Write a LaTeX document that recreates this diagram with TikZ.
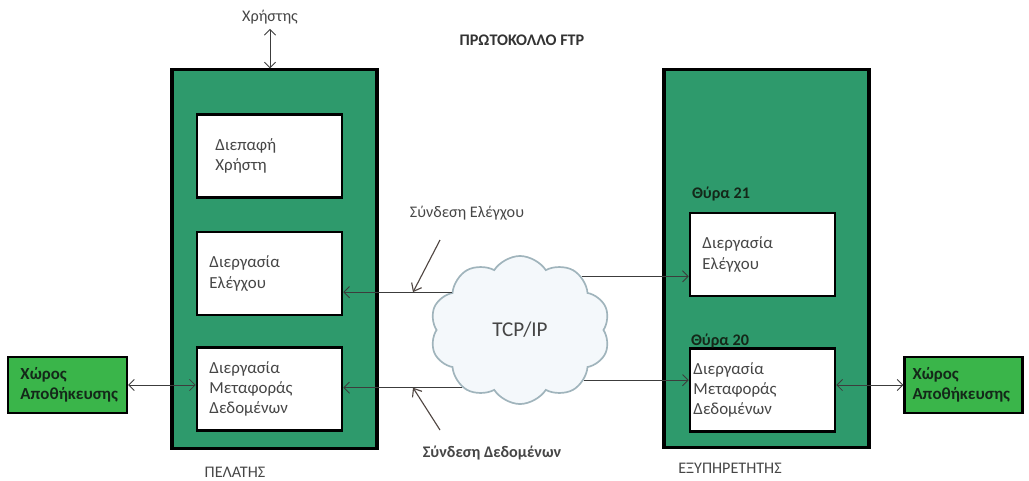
\documentclass[tikz,border=0pt]{standalone}
\usepackage{fontspec}
\setmainfont{Carlito}
\usepackage{tikz}
\usetikzlibrary{shapes.symbols, arrows.meta, positioning}

\definecolor{hostgreen}{RGB}{46,154,108}
\definecolor{storegreen}{RGB}{58,181,74}
\definecolor{cloudfill}{RGB}{244,248,251}
\definecolor{cloudline}{RGB}{160,180,188}
\definecolor{linegray}{RGB}{60,60,60}
\definecolor{pointgray}{RGB}{80,70,66}
\definecolor{labelgray}{RGB}{70,70,70}
\definecolor{darktext}{RGB}{20,40,25}

\begin{document}
\begin{tikzpicture}[x=0.025cm, y=-0.025cm,
        host/.style={draw, line width=2.2pt, fill=hostgreen, rectangle, minimum width=5.125cm, minimum height=9.45cm},
        proc/.style={draw, line width=1.8pt, fill=white, rectangle, minimum height=2.075cm, text width=3.0cm, inner xsep=0.3125cm, align=left, font=\fontsize{12}{14.5}\selectfont, text=labelgray},
        store/.style={draw, line width=1.6pt, fill=storegreen, rectangle, minimum height=1.4cm, text width=2.55cm, inner xsep=0.2cm, align=left, font=\fontsize{12}{14.5}\selectfont\bfseries, text=darktext},
        port/.style={font=\fontsize{11.5}{13}\selectfont\bfseries, text=darktext, inner sep=0pt},
        caption/.style={font=\fontsize{11.5}{13}\selectfont, text=labelgray},
        link/.style={line width=0.6pt, draw=linegray, ->, >={Straight Barb[length=4pt,width=8pt]}},
        twoway/.style={link, <->},
        pointer/.style={line width=0.8pt, draw=pointgray, ->, >={Straight Barb[length=5pt,width=8pt]}}
    ]
        \useasboundingbox (0,0) rectangle (1029,480);
        \node (client) [host] at (274.5,259) {};
        \node (server) [host] at (766.5,258.5) {};
        \node (clientUI) [proc, text width=2.7cm, inner xsep=0.4625cm] at (269.5,156) {Διεπαφή\\Χρήστη};
        \node (clientCtrl) [proc] at (269.5,273.5) {Διεργασία\\Ελέγχου};
        \node (clientData) [proc] at (269.5,389) {Διεργασία\\Μεταφοράς\\Δεδομένων};
        \node (serverCtrl) [proc] at (762.5,254.5) {Διεργασία\\Ελέγχου};
        \node (serverData) [proc, text width=3.45cm, inner xsep=0.0875cm] at (762.5,390) {Διεργασία\\Μεταφοράς\\Δεδομένων};
        \node (port21) [port, anchor=base west] at ([xshift=0.075cm, yshift=0.325cm]serverCtrl.north west) {Θύρα 21};
        \node (port20) [port, anchor=base west] at ([xshift=0.05cm, yshift=0.05cm]serverData.north west) {Θύρα 20};
        \node (storeL) [store, text width=2.35cm, inner xsep=0.3125cm] at (67.5,385) {Χώρος\\Αποθήκευσης};
        \node (storeR) [store] at (963.5,385) {Χώρος\\Αποθήκευσης};
        \node (net) [cloud, cloud puffs=10, cloud puff arc=115, aspect=1.3, draw=cloudline, line width=1.2pt, fill=cloudfill, minimum width=4.5cm, minimum height=3.7cm, font=\fontsize{15}{18}\selectfont, text=labelgray] at (520,330) {TCP/IP};
        \node (title) [font=\fontsize{11.5}{13}\selectfont\bfseries, text=black!80] at (522,40) {ΠΡΩΤΟΚΟΛΛΟ FTP};
        \node (user) [caption] at (270,17) {Χρήστης};
        \node (clientName) [caption] at (235,472) {ΠΕΛΑΤΗΣ};
        \node (serverName) [caption] at (730,468) {ΕΞΥΠΗΡΕΤΗΤΗΣ};
        \node (ctrlLabel) [caption] at (467,213) {Σύνδεση Ελέγχου};
        \node (dataLabel) [caption, font=\fontsize{11.5}{13}\selectfont\bfseries] at (492,453) {Σύνδεση Δεδομένων};
        \draw [twoway] (user) -- (user |- client.north);
        \draw [twoway] (storeL.east) -- (storeL.east -| clientData.west);
        \draw [twoway] (serverData.east |- storeR.west) -- (storeR.west);
        \draw [link] (net.151) -- (net.151 -| clientCtrl.east);
        \draw [link] (net.41) -- (net.41 -| serverCtrl.west);
        \draw [link] (net.225) -- (net.225 -| clientData.east);
        \draw [link] (net.322) -- (net.322 -| serverData.west);
        \coordinate (ctrlTail) at (440,240);
        \coordinate (ctrlTip) at (413,0 |- net.151);
        \draw [pointer] (ctrlTail) -- (ctrlTip);
        \coordinate (dataTail) at (440,430);
        \coordinate (dataTip) at (413,0 |- net.225);
        \draw [pointer] (dataTail) -- (dataTip);
    \end{tikzpicture}
\end{document}
